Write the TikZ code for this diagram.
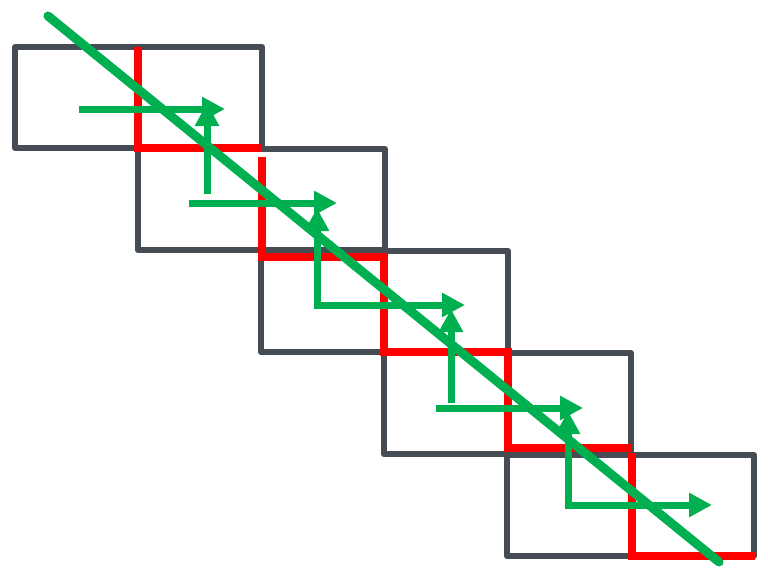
\documentclass[tikz,border=0pt]{standalone}
\usetikzlibrary{arrows.meta}
\definecolor{frame}{HTML}{454C53}
\definecolor{stair}{HTML}{FF0000}
\definecolor{flow}{HTML}{00B050}
\begin{document}
\begin{tikzpicture}[x=1pt,y=-1pt,
  cell/.style={draw=frame, line width=6pt, rectangle, minimum width=247pt,
    minimum height=101pt, inner sep=0pt, outer sep=0pt, line join=round},
  stairline/.style={draw=stair, line width=8pt},
  diag/.style={draw=flow, line width=9pt, line cap=round},
  leg/.style={draw=flow, line width=7pt},
  move/.style={leg, -{Triangle[length=23pt,width=23pt]}}]
\useasboundingbox (0,0) rectangle (768,570);

% the five overlapping cells
\foreach \i in {0,...,4}
  \node[cell] (r\i) at (138.5+123*\i, 97.5+102*\i) {};

% staircase boundary
\coordinate (s0) at (138,47);
\coordinate (s1) at (138,148);
\coordinate (s2) at (262,148);
\coordinate (s3) at (262,157);
\coordinate (s4) at (262,257);
\coordinate (s5) at (384,257);
\coordinate (s6) at (384,352);
\coordinate (s7) at (508,352);
\coordinate (s8) at (508,448);
\coordinate (s9) at (632,448);
\coordinate (s10) at (632,453);
\coordinate (s11) at (632,556);
\coordinate (s12) at (755,556);
\draw[stairline] (s0) -- (s1) -- (s2);
\draw[stairline] (s3) -- (s4) -- (s5) -- (s6) -- (s7) -- (s8) -- (s9);
\draw[stairline] (s10) -- (s11) -- (s12);

% diagonal
\coordinate (d1) at (48,16);
\coordinate (d2) at (719,562);
\draw[diag] (d1) -- (d2);

% step arrows
\coordinate (a1s) at (79,109);   \coordinate (a1e) at (225,109);
\coordinate (v1s) at (207,194);  \coordinate (v1e) at (207,103);
\coordinate (a2s) at (189,203);  \coordinate (a2e) at (337,203);
\coordinate (c2)  at (317,305);  \coordinate (v2e) at (317,208);
\coordinate (a3e) at (465,305);
\coordinate (v3s) at (451,403);  \coordinate (v3e) at (451,309);
\coordinate (a4s) at (436,408);  \coordinate (a4e) at (583,408);
\coordinate (c4)  at (568,505);  \coordinate (v4e) at (568,411);
\coordinate (a5e) at (712,505);

\draw[move] (a1s) -- (a1e);
\draw[move] (v1s) -- (v1e);
\draw[move] (a2s) -- (a2e);
\draw[move] (c2) -- (v2e);
\draw[move] ([xshift=-3.5pt]c2) -- (a3e);
\draw[move] (v3s) -- (v3e);
\draw[move] (a4s) -- (a4e);
\draw[move] (c4) -- (v4e);
\draw[move] ([xshift=-3.5pt]c4) -- (a5e);
\end{tikzpicture}
\end{document}
